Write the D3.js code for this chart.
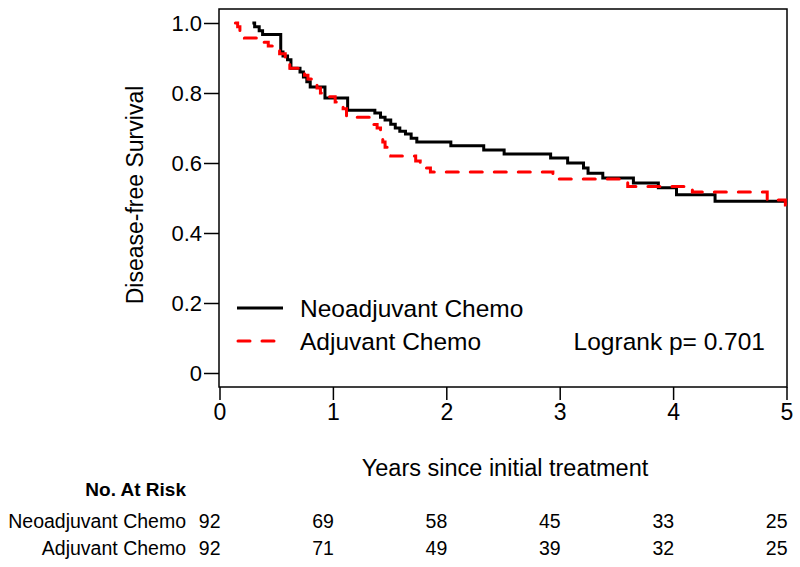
<!DOCTYPE html>
<html>
<head>
<meta charset="utf-8">
<script src="https://cdn.jsdelivr.net/npm/d3@7"></script>
<style>
  html, body { margin: 0; padding: 0; background: #fff; }
  svg { display: block; font-family: "Liberation Sans", Arial, sans-serif; }
</style>
</head>
<body>
<svg id="chart" width="800" height="567"></svg>
<script>
// ---- data ----
const groups = ["Neoadjuvant Chemo", "Adjuvant Chemo"];
const neoTimes = [0.29, 0.31, 0.35, 0.38, 0.54, 0.56, 0.60, 0.63, 0.71, 0.74, 0.77, 0.80, 0.93, 1.13, 1.37, 1.42, 1.46, 1.51, 1.55, 1.59, 1.64, 1.69, 1.74, 2.04, 2.33, 2.51, 2.92, 3.07, 3.21, 3.25, 3.38, 3.65, 3.87, 4.03, 4.37];
const neoSurv  = [1.0, 0.989, 0.978, 0.967, 0.917, 0.906, 0.895, 0.871, 0.860, 0.846, 0.832, 0.817, 0.786, 0.751, 0.743, 0.731, 0.723, 0.711, 0.700, 0.691, 0.683, 0.671, 0.660, 0.649, 0.637, 0.626, 0.614, 0.600, 0.586, 0.571, 0.557, 0.543, 0.529, 0.509, 0.491];
const adjTimes = [0.14, 0.16, 0.18, 0.20, 0.22, 0.375, 0.43, 0.49, 0.53, 0.58, 0.62, 0.75, 0.78, 0.86, 0.89, 0.91, 1.02, 1.09, 1.12, 1.33, 1.36, 1.39, 1.42, 1.44, 1.46, 1.48, 1.51, 1.73, 1.77, 1.81, 1.86, 2.94, 3.60, 4.17, 4.83, 4.99];
const adjSurv  = [1.0, 0.989, 0.978, 0.967, 0.957, 0.945, 0.934, 0.923, 0.912, 0.890, 0.871, 0.851, 0.840, 0.814, 0.800, 0.789, 0.774, 0.755, 0.731, 0.720, 0.710, 0.700, 0.680, 0.660, 0.645, 0.630, 0.620, 0.606, 0.597, 0.586, 0.574, 0.554, 0.533, 0.517, 0.494, 0.480];
const xTicks = [0, 1, 2, 3, 4, 5];
const yTicks = [0, 0.2, 0.4, 0.6, 0.8, 1.0];
const yTickLabels = ["0", "0.2", "0.4", "0.6", "0.8", "1.0"];
const riskTimes = [0, 1, 2, 3, 4, 5];
const riskNeo = [92, 69, 58, 45, 33, 25];
const riskAdj = [92, 71, 49, 39, 32, 25];
const pText = "Logrank p= 0.701";

// ---- layout ----
const svg = d3.select("#chart");
const L = 219, R = 787, T = 9, B = 387;
const x = d3.scaleLinear().domain([0, 5]).range([219.5, 786.5]);
const y = d3.scaleLinear().domain([-0.04, 1.04]).range([B, T]);

// clip
svg.append("defs").append("clipPath").attr("id", "clip")
  .append("rect").attr("x", L).attr("y", T).attr("width", R - L).attr("height", B - T);

// box
svg.append("rect").attr("x", L).attr("y", T).attr("width", R - L).attr("height", B - T)
  .attr("fill", "none").attr("stroke", "#000").attr("stroke-width", 1.5);

// y axis
const yAxis = d3.axisLeft(y).tickValues(yTicks).tickSize(15).tickPadding(2)
  .tickFormat((d, i) => yTickLabels[i]);
const gy = svg.append("g").attr("transform", `translate(${L},0)`).call(yAxis);
gy.select(".domain").remove();
gy.selectAll("line").attr("stroke-width", 1.5);
gy.selectAll("text").attr("font-size", 22).attr("font-family", "Liberation Sans, Arial, sans-serif").attr("fill", "#000");

// x axis
const xAxis = d3.axisBottom(x).tickValues(xTicks).tickSize(13).tickPadding(4).tickFormat(d3.format("d"));
const gx = svg.append("g").attr("transform", `translate(0,${B})`).call(xAxis);
gx.select(".domain").remove();
gx.selectAll("line").attr("stroke-width", 1.5);
gx.selectAll("text").attr("font-size", 23).attr("font-family", "Liberation Sans, Arial, sans-serif").attr("fill", "#000");

// axis titles
svg.append("text").attr("transform", "translate(143,195) rotate(-90)")
  .attr("text-anchor", "middle").attr("font-size", 23).text("Disease-free Survival");
svg.append("text").attr("x", 505).attr("y", 476)
  .attr("text-anchor", "middle").attr("font-size", 23.5).text("Years since initial treatment");

// curves
function stepPoints(times, surv) {
  const pts = [];
  for (let i = 0; i < times.length; i++) {
    if (i > 0) pts.push([times[i], surv[i - 1]]);
    pts.push([times[i], surv[i]]);
  }
  pts.push([5.05, surv[surv.length - 1]]);
  return pts;
}
const line = d3.line().x(d => x(d[0])).y(d => y(d[1]));
const plot = svg.append("g").attr("clip-path", "url(#clip)");
plot.append("path").datum(stepPoints(neoTimes, neoSurv))
  .attr("d", line).attr("fill", "none").attr("stroke", "#000").attr("stroke-width", 3);
plot.append("path").datum(stepPoints(adjTimes, adjSurv))
  .attr("d", line).attr("fill", "none").attr("stroke", "#ff0000").attr("stroke-width", 3)
  .attr("stroke-dasharray", "12,12").attr("stroke-linecap", "round");

// legend
const leg = svg.append("g");
const legY = [308, 341];
leg.append("line").attr("x1", 237).attr("x2", 283).attr("y1", legY[0]).attr("y2", legY[0])
  .attr("stroke", "#000").attr("stroke-width", 3);
leg.append("line").attr("x1", 238).attr("x2", 283).attr("y1", legY[1]).attr("y2", legY[1])
  .attr("stroke", "#ff0000").attr("stroke-width", 3).attr("stroke-dasharray", "12,12").attr("stroke-linecap", "round");
groups.forEach((g, i) => {
  leg.append("text").attr("x", 300).attr("y", legY[i]).attr("dy", "0.35em")
    .attr("font-size", 24.5).text(g);
});
svg.append("text").attr("x", 765).attr("y", legY[1]).attr("dy", "0.35em")
  .attr("text-anchor", "end").attr("font-size", 24.5).text(pText);

// risk table
svg.append("text").attr("x", 186).attr("y", 496).attr("text-anchor", "end")
  .attr("font-size", 19).attr("font-weight", "bold").text("No. At Risk");
const rows = [riskNeo, riskAdj];
const rowY = [528, 555];
rows.forEach((r, i) => {
  svg.append("text").attr("x", 186).attr("y", rowY[i]).attr("text-anchor", "end")
    .attr("font-size", 19.5).text(groups[i]);
  svg.append("g").selectAll("text").data(riskTimes).join("text")
    .attr("x", d => x(d) + 1).attr("y", rowY[i]).attr("text-anchor", "end")
    .attr("font-size", 19.5).text((d, j) => r[j]);
});
</script>
</body>
</html>
